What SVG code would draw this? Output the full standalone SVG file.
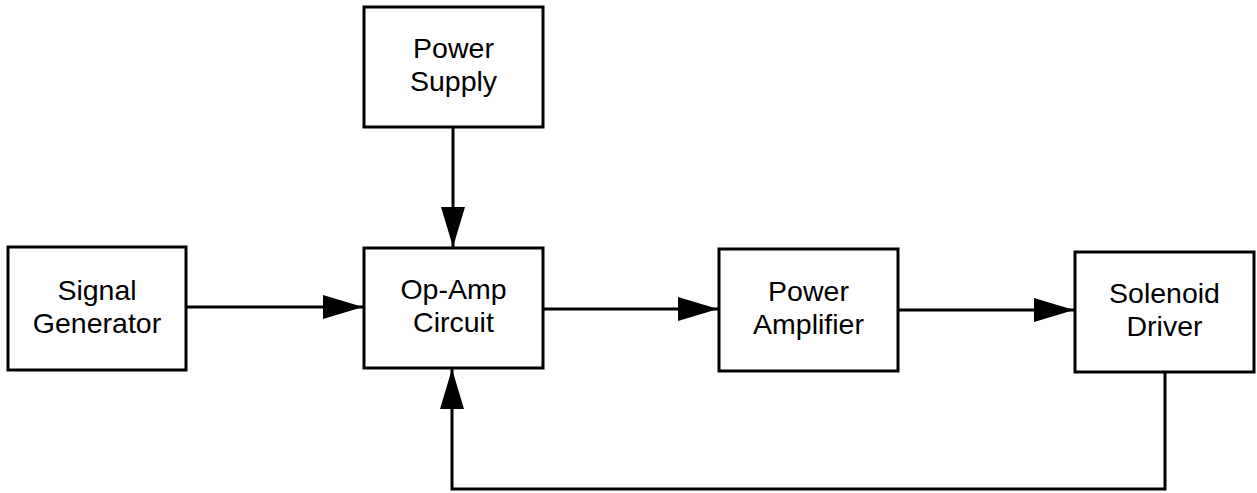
<svg xmlns="http://www.w3.org/2000/svg" width="1257" height="493" viewBox="0 0 1257 493">
<defs>
<marker id="ah" markerUnits="userSpaceOnUse" markerWidth="40" markerHeight="24" refX="40" refY="12" orient="auto">
<path d="M0,0 L40,12 L0,24 Z" fill="#000"/>
</marker>
</defs>
<style>
.box{fill:#fff;stroke:#000;stroke-width:3}
.lbl{font-family:"Liberation Sans","Noto Sans",sans-serif;font-size:28.5px;fill:#000;text-anchor:middle}
.c{fill:none;stroke:#000;stroke-width:3}
</style>
<rect width="1257" height="493" fill="#fff"/>
<g id="power-supply">
<rect class="box" x="364" y="7" width="179" height="120"/>
<text class="lbl" x="453.5" y="58">Power</text>
<text class="lbl" x="453.5" y="91">Supply</text>
</g>
<g id="signal-generator">
<rect class="box" x="8" y="247" width="178" height="123"/>
<text class="lbl" x="97" y="300">Signal</text>
<text class="lbl" x="97" y="333">Generator</text>
</g>
<g id="op-amp">
<rect class="box" x="364" y="248" width="179" height="120"/>
<text class="lbl" x="453.5" y="299">Op-Amp</text>
<text class="lbl" x="453.5" y="332">Circuit</text>
</g>
<g id="power-amplifier">
<rect class="box" x="719" y="249" width="179" height="122"/>
<text class="lbl" x="808.5" y="301">Power</text>
<text class="lbl" x="808.5" y="334">Amplifier</text>
</g>
<g id="solenoid-driver">
<rect class="box" x="1075" y="252" width="179" height="120"/>
<text class="lbl" x="1164.5" y="303">Solenoid</text>
<text class="lbl" x="1164.5" y="336">Driver</text>
</g>
<g id="connectors">
<line class="c" x1="453" y1="127" x2="453" y2="247" marker-end="url(#ah)"/>
<line class="c" x1="186" y1="307" x2="363" y2="307" marker-end="url(#ah)"/>
<line class="c" x1="543" y1="309" x2="718" y2="309" marker-end="url(#ah)"/>
<line class="c" x1="898" y1="310" x2="1074" y2="310" marker-end="url(#ah)"/>
<polyline class="c" points="1165,372 1165,489 452,489 452,369" marker-end="url(#ah)"/>
</g>
</svg>
